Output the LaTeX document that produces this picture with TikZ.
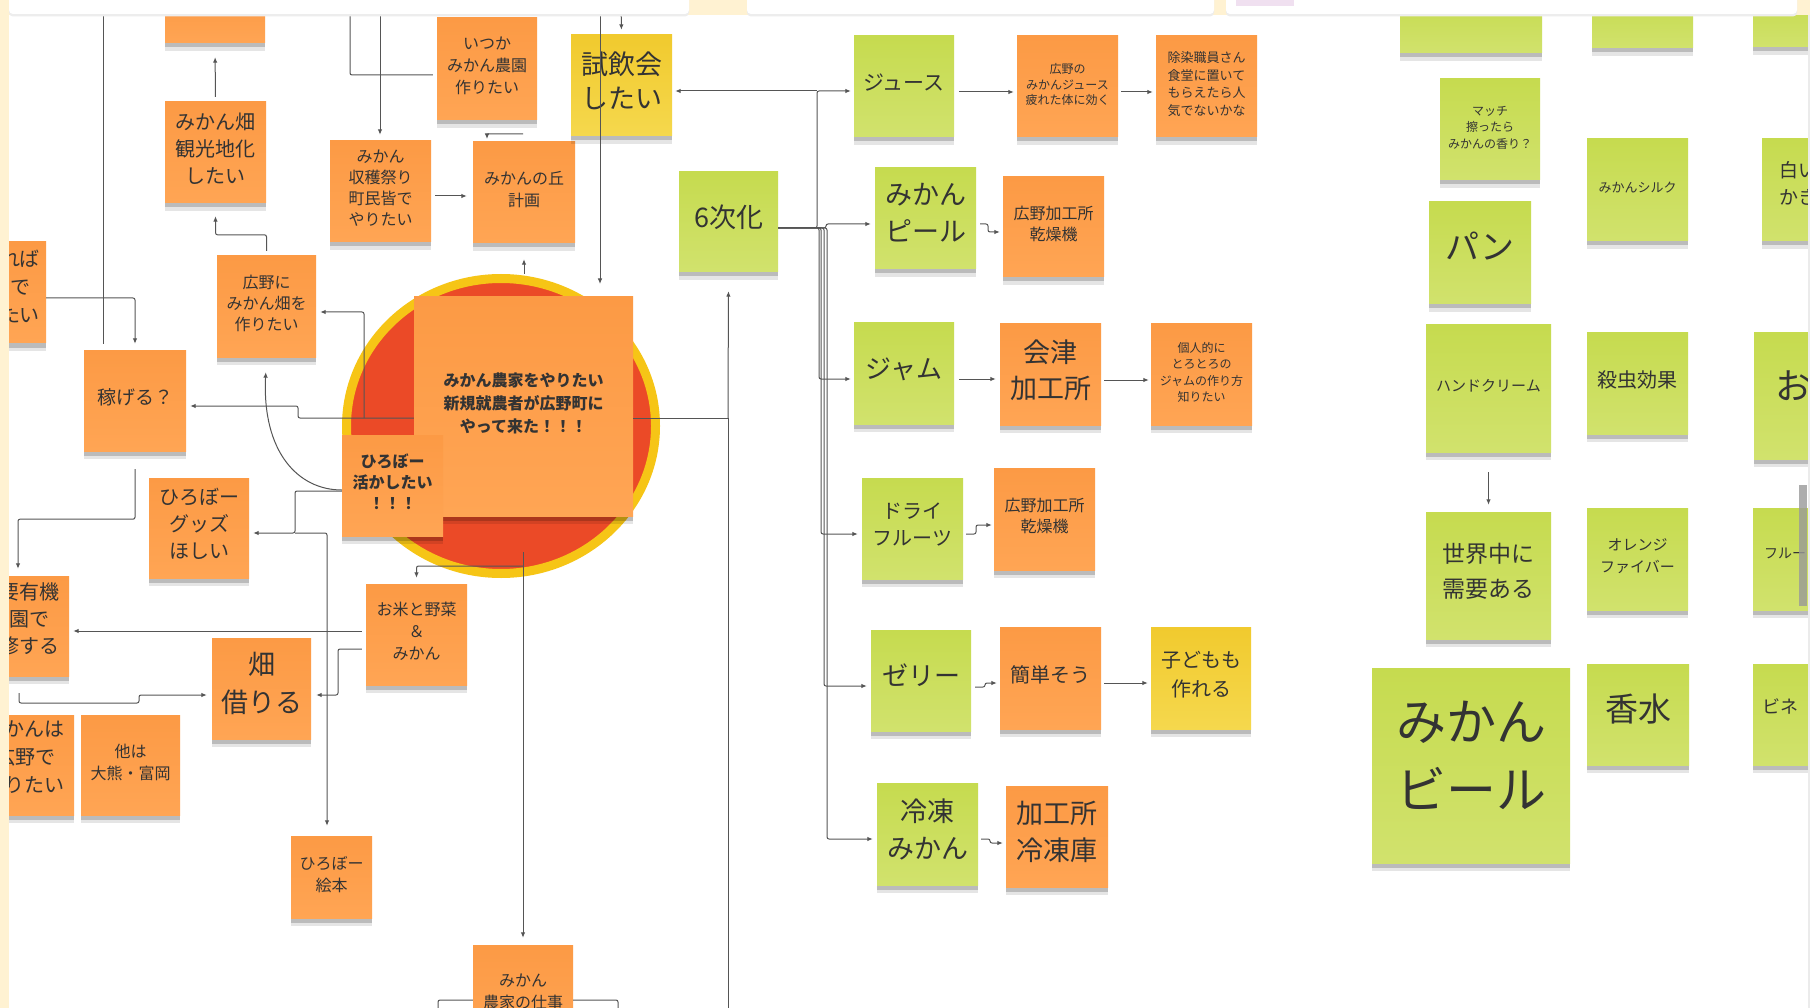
\documentclass[tikz,border=0pt]{standalone}
\usepackage{fontspec}
\setmainfont{Noto Sans CJK JP}
\usetikzlibrary{arrows.meta,shapes.geometric,shadows}
\definecolor{cream}{HTML}{FFF2D2}
\definecolor{lc}{HTML}{555555}
\definecolor{txt}{HTML}{333333}
\definecolor{orT}{HTML}{FC9A45}
\definecolor{orB}{HTML}{FFA554}
\definecolor{grT}{HTML}{C6DB4F}
\definecolor{grB}{HTML}{D1E26D}
\definecolor{yeT}{HTML}{F1CA2E}
\definecolor{yeB}{HTML}{F5D84D}
\definecolor{ringc}{HTML}{F6C516}
\definecolor{redc}{HTML}{EB4A27}
\newcommand\fs[2]{\fontsize{#1}{#2}\selectfont}
\newcommand\liftdepth{\rule[-0.42em]{0pt}{0.42em}}
\tikzset{
  note/.style={rectangle, inner sep=2pt, align=center, text=txt,
    execute at end node={\liftdepth},
    drop shadow={shadow xshift=0pt, shadow yshift=-8pt, opacity=.10, fill=black},
    drop shadow={shadow xshift=0pt, shadow yshift=-4.5pt, opacity=.18, fill=black}},
  onote/.style={note, top color=orT, bottom color=orB},
  gnote/.style={note, top color=grT, bottom color=grB},
  ynote/.style={note, top color=yeT, bottom color=yeB},
  sz/.style 2 args={minimum width=#1pt, minimum height=#2pt},
  ptext/.style={text=txt, inner sep=0pt, align=center, execute at end node={\liftdepth}},
  ln/.style={draw=lc, line width=1pt, rounded corners=2pt},
  arr/.style={ln, -{Latex[length=5.5pt,width=4.5pt]}},
}
\begin{document}
\begin{tikzpicture}[x=1pt,y=-1pt]
\clip (0,0) rectangle (1810,1008);
\fill[white] (0,0) rectangle (1810,1008);

% ---- circle and centre notes
\node[ellipse, fill=redc, draw=ringc, line width=9pt, minimum width=309pt, minimum height=295pt, inner sep=0pt] (circ) at (501,426) {};
\node[onote, sz={219}{219}, font=\fs{16}{23}\bfseries] (main) at (523.5,406.5) {みかん農家をやりたい\\新規就農者が広野町に\\やって来た！！！};
\node[onote, sz={101}{101}, font=\fs{16}{21}\bfseries] (hirobo) at (392.5,485.5) {ひろぼー\\活かしたい\\！！！};

% ---- orange notes, left part
\node[onote, sz={100}{43}] (top0) at (215,21.5) {};
\node[onote, sz={101}{101}, font=\fs{20}{27}] (kanko) at (215.5,152.5) {みかん畑\\観光地化\\したい};
\node[onote, sz={99}{101}, font=\fs{16}{21}] (hironi) at (266.5,306.5) {広野に\\みかん畑を\\作りたい};
\node[onote, sz={102}{101}, font=\fs{19}{25}] (kaseg) at (135,400.5) {稼げる？};
\node[onote, sz={96}{101}] (reba) at (-2,292.5) {};
\node[ptext, font=\fs{20}{28}] (rebat) at (20,290) {れば\\で\\たい};
\node[onote, sz={109}{100}] (yuki) at (14.5,626) {};
\node[ptext, font=\fs{20}{27}] (yukit) at (29,622) {要有機\\園で\\修する};
\node[onote, sz={115}{100}] (mhiro) at (16.5,765) {};
\node[ptext, font=\fs{20}{28}] (mhirot) at (25,761) {みかんは\\広野で\\やりたい};
\node[onote, sz={99}{100}, font=\fs{16}{22}] (tahoka) at (130.5,765) {他は\\大熊・富岡};
\node[onote, sz={100}{100}, font=\fs{20}{27}] (goods) at (199,528) {ひろぼー\\グッズ\\ほしい};
\node[onote, sz={99}{101}, font=\fs{27}{38}] (hatake) at (261.5,688.5) {畑\\借りる};
\node[onote, sz={81}{82}, font=\fs{16}{22}] (ehon) at (331.5,877) {ひろぼー\\絵本};
\node[onote, sz={101}{101}, font=\fs{16}{22}] (okome) at (416.5,634.5) {お米と野菜\\＆\\みかん};
\node[onote, sz={100}{102}, font=\fs{16}{22}] (itsuka) at (487,69) {いつか\\みかん農園\\作りたい};
\node[onote, sz={101}{101}, font=\fs{16}{21}] (shukaku) at (380.5,191.5) {みかん\\収穫祭り\\町民皆で\\やりたい};
\node[onote, sz={102}{101}, font=\fs{16}{22}] (oka) at (524,192.5) {みかんの丘\\計画};
\node[onote, sz={100}{100}, font=\fs{16}{22}] (shigoto) at (523,995) {みかん\\農家の仕事};
\node[ynote, sz={101}{101}, font=\fs{27}{34}] (shiin) at (621.5,85.5) {試飲会\\したい};

% ---- 6th industry column
\node[gnote, sz={99}{100}, font=\fs{27}{34}] (roku) at (728.5,222) {6次化};
\node[gnote, sz={100}{101}, font=\fs{21}{28}] (juice) at (904,86.5) {ジュース};
\node[gnote, sz={101}{101}, font=\fs{27}{37}] (peel) at (925.5,218.5) {みかん\\ピール};
\node[gnote, sz={100}{101}, font=\fs{26}{34}] (jam) at (904,373.5) {ジャム};
\node[gnote, sz={101}{101}, font=\fs{20}{27}] (dry) at (912.5,528.5) {ドライ\\フルーツ};
\node[gnote, sz={100}{101}, font=\fs{26}{34}] (jelly) at (921,680.5) {ゼリー};
\node[gnote, sz={101}{102}, font=\fs{27}{37}] (reitou) at (927.5,834) {冷凍\\みかん};
\node[onote, sz={101}{101}, font=\fs{12}{15.5}] (kouya1) at (1067.5,86.5) {広野の\\みかんジュース\\疲れた体に効く};
\node[onote, sz={101}{101}, font=\fs{13}{17.5}] (josen) at (1206.5,86.5) {除染職員さん\\食堂に置いて\\もらえたら人\\気でないかな};
\node[onote, sz={101}{100}, font=\fs{16}{21}] (kansou1) at (1053.5,227) {広野加工所\\乾燥機};
\node[onote, sz={101}{101}, font=\fs{27}{36}] (aizu) at (1050.5,374.5) {会津\\加工所};
\node[onote, sz={101}{101}, font=\fs{12}{16.5}] (kojin) at (1201.5,374.5) {個人的に\\とろとろの\\ジャムの作り方\\知りたい};
\node[onote, sz={101}{102}, font=\fs{16}{21}] (kansou2) at (1044.5,519) {広野加工所\\乾燥機};
\node[onote, sz={101}{102}, font=\fs{20}{27}] (kantan) at (1050.5,678) {簡単そう};
\node[ynote, sz={100}{102}, font=\fs{20}{29}] (kodomo) at (1201,678) {子どもも\\作れる};
\node[onote, sz={102}{101}, font=\fs{27}{37}] (reitoko) at (1057,836.5) {加工所\\冷凍庫};

% ---- right green area
\node[gnote, sz={142}{53}] (gtop1) at (1471,26.5) {};
\node[gnote, sz={101}{48}] (gtop2) at (1642.5,24) {};
\node[gnote, sz={107}{47}] (gtop3) at (1806.5,23.5) {};
\node[gnote, sz={100}{101}, font=\fs{12}{16.5}] (match) at (1490,129.5) {マッチ\\擦ったら\\みかんの香り？};
\node[gnote, sz={101}{102}, font=\fs{13}{18}] (silk) at (1637.5,190) {みかんシルク};
\node[gnote, sz={98}{102}] (shiroi) at (1811,190) {};
\node[ptext, font=\fs{19}{27}] (shiroit) at (1798,187) {白い\\かき};
\node[gnote, sz={102}{102}, font=\fs{34}{40}] (pan) at (1480,253) {パン};
\node[gnote, sz={125}{127}, font=\fs{15}{20}] (hand) at (1488.5,388.5) {ハンドクリーム};
\node[gnote, sz={101}{101}, font=\fs{20}{26}] (satsu) at (1637.5,383.5) {殺虫効果};
\node[gnote, sz={106}{126}] (obox) at (1807,396) {};
\node[ptext, font=\fs{36}{40}] (oboxt) at (1793,393) {お};
\node[gnote, sz={125}{127}, font=\fs{23}{35}] (sekai) at (1488.5,575.5) {世界中に\\需要ある};
\node[gnote, sz={101}{102}, font=\fs{15}{22}] (ofiber) at (1637.5,559) {オレンジ\\ファイバー};
\node[gnote, sz={107}{102}] (fbox) at (1806.5,559) {};
\node[ptext, font=\fs{14}{18}, anchor=west] (fboxt) at (1764,556) {フルー};
\node[gnote, sz={198}{195}, font=\fs{50}{68}] (beer) at (1471,765.5) {みかん\\ビール};
\node[gnote, sz={102}{101}, font=\fs{33}{40}] (kousui) at (1638,714.5) {香水};
\node[gnote, sz={107}{101}] (bbox) at (1806.5,714.5) {};
\node[ptext, font=\fs{18}{22}, anchor=west] (bboxt) at (1762,710) {ビネ};

% ---- free ends
\coordinate (topA) at (103,0);
\coordinate (topB) at (350,0);
\coordinate (topC) at (380,0);
\coordinate (topD) at (600,0);
\coordinate (topE) at (621,0);
\coordinate (circTarget) at (600,284);
\coordinate (bottomR) at (728,1008);
\coordinate (sgL) at (438,1008);
\coordinate (sgR) at (618,1008);
\coordinate (itA) at (523,134);
\coordinate (junc1) at (728,418);
\coordinate (junc2) at (295,533);
\coordinate (trunk) at (817,91);

% ---- connectors, left
\draw[arr, shorten <=5pt, shorten >=14pt] (kanko.north) -- (top0.south);
\draw[arr, shorten <=5pt, shorten >=13pt] (hironi.north) -- ++(0,-21) -| (kanko.south);
\draw[arr, shorten >=4pt] (main.west |- 0,418) -- (298,418) -- (298,406) -- (kaseg.east |- 0,406);
\draw[arr, shorten >=4pt] (364,418) -- (364,312) -- (hironi.east |- 0,312);
\draw[arr, shorten >=15pt] (hirobo.west |- 0,490) .. controls (298,490) and (262,452) .. (hironi.south);
\draw[arr, shorten >=4pt] (hirobo.west |- 0,491) -- (295,491) -- (junc2) -- (goods.east |- 0,533);
\draw[arr, shorten >=10pt] (junc2) -- (327,533) -- (327,0 |- ehon.north);
\draw[arr, shorten <=18pt, shorten >=7pt] (kaseg.south) -- ++(0,68) -| (18,0 |- yuki.north);
\draw[arr, shorten >=6pt] (reba.east |- 0,298) -| (kaseg.north);
\draw[ln, shorten >=6pt] (topA) -- (103,0 |- kaseg.north);
\draw[arr, shorten <=17pt, shorten >=5pt] (19,0 |- yuki.south) -- (19,703) -- (139,703) -- (139,695) -- (hatake.west |- 0,695);
\draw[arr, shorten <=4pt, shorten >=4pt] (okome.west |- 0,631) -- (yuki.east |- 0,631);
\draw[arr, shorten <=4pt, shorten >=5pt] (okome.west |- 0,649) -- (338,649) -- (338,695) -- (hatake.east |- 0,695);
\draw[arr, shorten >=6pt] (523,566) -| (okome.north);
\draw[arr, shorten >=7pt] (523,552) -- (shigoto.north);
\draw[arr, shorten >=16pt] (oka.south |- circ.north) -- (oka.south);
\draw[arr] (topD) -- (circTarget);
\draw[arr, shorten >=5pt] (topE) -- (shiin.north);
\draw[ln, shorten >=4pt] (topB) |- (itsuka.west |- 0,75);
\draw[arr, shorten >=6pt] (topC) -- (380,0 |- shukaku.north);
\draw[arr, shorten <=4pt, shorten >=6pt] (shukaku.east |- 0,196) -- (oka.west |- 0,196);
\draw[arr, rounded corners=1pt] (itA) -- (487,134) -- (487,139);
\draw[ln] (shigoto.west |- 0,1000) -- (438,1000) -- (sgL);
\draw[ln] (shigoto.east |- 0,1000) -- (618,1000) -- (sgR);

% ---- connectors, 6th industry
\draw[ln] (main.east |- 0,418) -- (junc1);
\draw[arr, shorten >=19pt] (junc1) -- (roku.south);
\draw[ln] (junc1) -- (bottomR);
\draw[arr, shorten >=3pt] (roku.east |- 0,228) -- (817,228) -- (trunk) -- (juice.west |- 0,91);
\draw[arr, shorten >=3pt] (trunk) -- (shiin.east |- 0,91);
\draw[arr, shorten >=4pt] (roku.east |- 0,228) -- (826,228) -- (826,224) -- (peel.west |- 0,224);
\draw[arr, shorten >=3pt] (roku.east |- 0,228) -- (819,228) -- (819,379) -- (jam.west |- 0,379);
\draw[arr, shorten >=4pt] (roku.east |- 0,228) -- (821,228) -- (821,534) -- (dry.west |- 0,534);
\draw[arr, shorten >=4pt] (roku.east |- 0,228) -- (824,228) -- (824,686) -- (jelly.west |- 0,686);
\draw[arr, shorten >=4pt] (roku.east |- 0,228) -- (827,228) -- (827,839) -- (reitou.west |- 0,839);
\draw[arr, shorten <=5pt, shorten >=3pt] (juice.east |- 0,92) -- (kouya1.west |- 0,92);
\draw[arr, shorten <=3pt, shorten >=3pt] (kouya1.east |- 0,92) -- (josen.west |- 0,92);
\draw[arr, shorten <=4pt, shorten >=3pt] (peel.east |- 0,224) -- (988,224) -- (988,232) -- (kansou1.west |- 0,232);
\draw[arr, shorten <=5pt, shorten >=4pt] (jam.east |- 0,379) -- (aizu.west |- 0,379);
\draw[arr, shorten <=3pt, shorten >=2pt] (aizu.east |- 0,380) -- (kojin.west |- 0,380);
\draw[arr, shorten <=3pt, shorten >=2pt] (dry.east |- 0,534) -- (976,534) -- (976,525) -- (kansou2.west |- 0,525);
\draw[arr, shorten <=4pt, shorten >=3pt] (jelly.east |- 0,687) -- (985,687) -- (985,683) -- (kantan.west |- 0,683);
\draw[arr, shorten <=3pt, shorten >=3pt] (kantan.east |- 0,683) -- (kodomo.west |- 0,683);
\draw[arr, shorten <=3pt, shorten >=3pt] (reitou.east |- 0,839) -- (990,839) -- (990,843) -- (reitoko.west |- 0,843);
\draw[arr, shorten <=20pt, shorten >=7pt] (hand.south) -- (sekai.north);

% ---- frame of the board
\fill[cream] (0,0) rectangle (1810,15);
\fill[cream] (0,0) rectangle (9,1008);
\foreach \a/\b in {9/689,747/1214,1226/1797}{
  \fill[black!7, rounded corners=4pt] (\a,-6) rectangle (\b,16.5);
  \fill[white, rounded corners=4pt] (\a,-6) rectangle (\b,14);
}
\fill[violet!12] (1236,0) rectangle (1294,6);
\fill[black!8] (1808,15) rectangle (1810,1008);
\fill[black!40, opacity=.8] (1799,485) rectangle (1807,606);
\end{tikzpicture}
\end{document}
